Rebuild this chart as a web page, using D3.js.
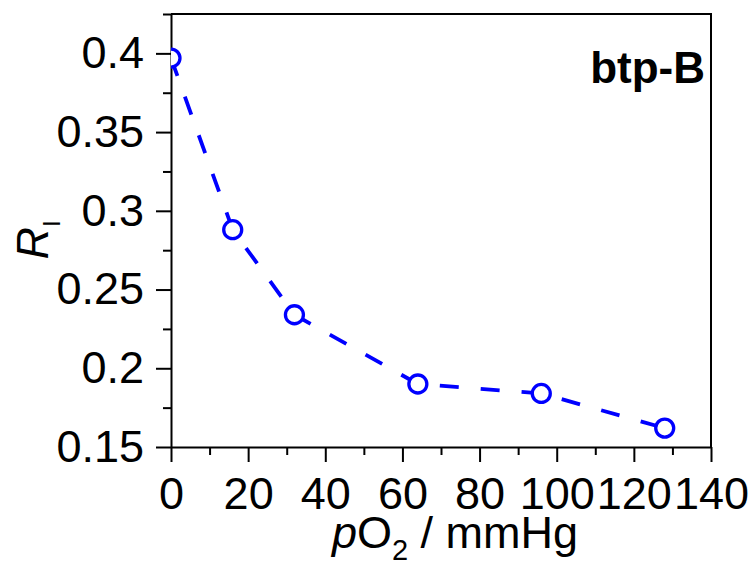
<!DOCTYPE html>
<html>
<head>
<meta charset="utf-8">
<script src="https://cdn.jsdelivr.net/npm/d3@7"></script>
<style>
  body { margin: 0; background: #fff; }
  svg text { font-family: "Liberation Sans", Arial, sans-serif; fill: #000; }
</style>
</head>
<body>
<svg id="grafico"></svg>
<script>
const WIDTH = 751,
    HEIGHT = 563;

const margin = { top: 14, right: 40, bottom: 116, left: 171 };

// datos
const pO2 = [0, 16, 32, 64, 96, 128];
const ratioRI = [0.397, 0.288, 0.234, 0.190, 0.184, 0.162];
const ticksX = [0, 20, 40, 60, 80, 100, 120, 140];
const minorX = [10, 30, 50, 70, 90, 110, 130];
const ticksY = [0.15, 0.2, 0.25, 0.3, 0.35, 0.4];
const minorY = [0.175, 0.225, 0.275, 0.325, 0.375, 0.425];
const etiqueta = "btp-B";

const ancho = WIDTH - margin.left - margin.right,
    alto = HEIGHT - margin.top - margin.bottom;

const datos = pO2.map((p, i) => ({ p: p, r: ratioRI[i] }));

const svg = d3.select("#grafico")
    .attr("width", WIDTH)
    .attr("height", HEIGHT);

const escalaX = d3.scaleLinear().domain([0, 140]).range([0, ancho]);
const escalaY = d3.scaleLinear().domain([0.15, 0.425]).range([alto, 0]);

const g = svg.append("g")
    .attr("transform", `translate(${margin.left} ${margin.top})`);

// ticks menores
g.append("g")
    .attr("transform", `translate(0 ${alto})`)
    .call(d3.axisBottom(escalaX).tickValues(minorX).tickSize(8).tickFormat(""))
    .call(e => e.select(".domain").remove());

g.append("g")
    .call(d3.axisLeft(escalaY).tickValues(minorY).tickSize(8).tickFormat(""))
    .call(e => e.select(".domain").remove());

// ejes principales
const ejeX = g.append("g")
    .attr("transform", `translate(0 ${alto})`)
    .call(d3.axisBottom(escalaX).tickValues(ticksX).tickSize(15).tickSizeOuter(0).tickPadding(15));

const ejeY = g.append("g")
    .call(d3.axisLeft(escalaY).tickValues(ticksY).tickSize(15).tickSizeOuter(0).tickPadding(12)
        .tickFormat(d => String(+d.toFixed(2))));

g.selectAll(".tick line").attr("stroke", "#000").attr("stroke-width", 2);
g.selectAll(".domain").attr("stroke", "#000").attr("stroke-width", 2);
g.selectAll(".tick text").style("font-size", "45px").attr("fill", "#000");

// marco superior y derecho
g.append("path")
    .attr("d", `M0,0H${ancho}V${alto}`)
    .attr("fill", "none")
    .attr("stroke", "#000")
    .attr("stroke-width", 2);

g.append("clipPath")
    .attr("id", "clip-area")
    .append("rect")
    .attr("width", ancho)
    .attr("height", alto);

const contenedorDatos = g.append("g").attr("clip-path", "url(#clip-area)");

const linea = d3.line()
    .x(d => escalaX(d.p))
    .y(d => escalaY(d.r));

contenedorDatos.append("path")
    .datum(datos)
    .attr("d", linea)
    .attr("fill", "none")
    .attr("stroke", "#0000ff")
    .attr("stroke-width", 3.8)
    .attr("stroke-dasharray", "19,22");

contenedorDatos.selectAll("circle")
    .data(datos)
    .join("circle")
    .attr("cx", d => escalaX(d.p))
    .attr("cy", d => escalaY(d.r))
    .attr("r", 9)
    .attr("fill", "#fff")
    .attr("stroke", "#0000ff")
    .attr("stroke-width", 3.3);

// etiqueta interior
g.append("text")
    .attr("x", ancho - 6)
    .attr("y", 69)
    .attr("text-anchor", "end")
    .style("font-size", "44px")
    .style("font-weight", "bold")
    .text(etiqueta);

// titulo eje X
const tituloX = svg.append("text")
    .attr("x", 455)
    .attr("y", 548)
    .attr("text-anchor", "middle")
    .style("font-size", "45px");
tituloX.append("tspan").style("font-style", "italic").text("p");
tituloX.append("tspan").text("O");
tituloX.append("tspan").attr("dy", 12).style("font-size", "29px").text("2");
tituloX.append("tspan").attr("dy", -12).text(" / mmHg");

// titulo eje Y
const tituloY = svg.append("text")
    .attr("transform", "translate(48 240) rotate(-90)")
    .attr("text-anchor", "middle")
    .style("font-size", "45px");
tituloY.append("tspan").style("font-style", "italic").text("R");
tituloY.append("tspan").attr("dy", 12).style("font-size", "24px").text("I");
</script>
</body>
</html>
